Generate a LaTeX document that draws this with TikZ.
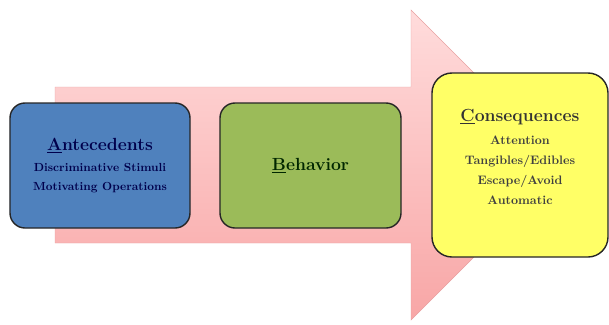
\documentclass[tikz,border=0pt]{standalone}
\usepackage{xcolor}
\usepackage{tikz}
\usetikzlibrary{shapes,calc}

\definecolor{abcblue}{HTML}{4F81BD}
\definecolor{abcgreen}{HTML}{9BBB59}
\definecolor{abcyellow}{HTML}{FFFF66}
\definecolor{arrowtop}{HTML}{FFDCDC}
\definecolor{arrowbot}{HTML}{F8A6A6}
\definecolor{arrowline}{HTML}{E8A0A0}

\begin{document}
\begin{tikzpicture}[x=0.03cm, y=-0.03cm,
abc/.style={rectangle, rounded corners=0.45cm, draw=black!85, line width=1.2pt, align=center, font=\bfseries},
head/.style={font=\bfseries\fontsize{15}{17}\selectfont},
sub/.style={align=center, font=\bfseries\fontsize{10.5}{17}\selectfont}
]
\useasboundingbox (0,0) rectangle (609,324);

% Big arrow behind the boxes
\shade[top color=arrowtop, bottom color=arrowbot, draw=arrowline, line width=0.4pt]
  (55,87) -- (411,87) -- (411,10) -- (566,165) -- (411,320) -- (411,243) -- (55,243) -- cycle;

% Antecedents
\node[abc, fill=abcblue, text=blue!30!black, minimum width=5.4cm, minimum height=3.75cm] (ante) at (100,165.5) {};
\node[head, text=blue!30!black] (antetitle) at (100,146) {\underline{A}ntecedents};
\node[sub, font=\bfseries\fontsize{10}{16}\selectfont, text=blue!30!black] (antesub) at (100,178) {Discriminative Stimuli\\Motivating Operations};

% Behavior
\node[abc, fill=abcgreen, minimum width=5.43cm, minimum height=3.75cm] (beh) at (310.5,165.5) {};
\node[head, text=black!85!green] (behtitle) at (310.5,166) {\underline{B}ehavior};

% Consequences
\node[abc, fill=abcyellow, rounded corners=0.6cm, minimum width=5.28cm, minimum height=5.52cm] (cons) at (520,165) {};
\node[head, text=black!80] (constitle) at (520,117) {\underline{C}onsequences};
\node[sub, text=black!75] (conssub) at (520,170) {Attention\\Tangibles/Edibles\\Escape/Avoid\\Automatic};

\end{tikzpicture}
\end{document}
